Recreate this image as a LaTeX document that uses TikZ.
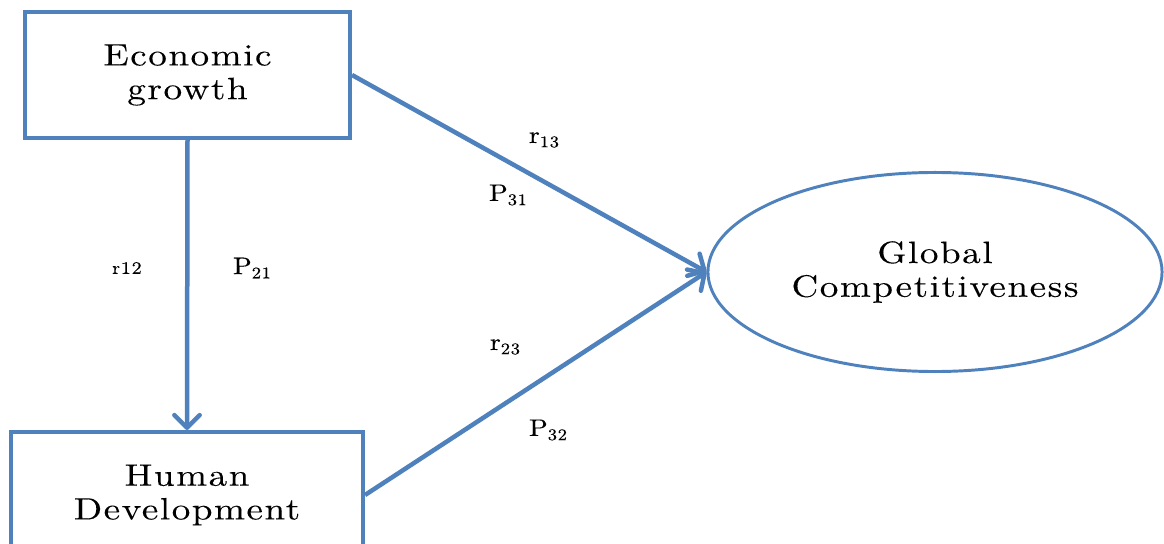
\documentclass[tikz,border=0pt]{standalone}
\usepackage{fontspec}
\usetikzlibrary{arrows.meta,shapes.geometric}
\definecolor{pathblue}{HTML}{4F81BD}
\newfontfamily\spacedfont{lmroman10-regular.otf}[FakeStretch=1.2, LetterSpace=5, FakeBold=0.2]
\newfontfamily\coeffam{lmroman10-regular.otf}[FakeStretch=1.15, LetterSpace=4, FakeBold=0.3]
\newcommand{\varfont}{\spacedfont\fontsize{22}{24}\selectfont}
\newcommand{\coeffont}{\coeffam\fontsize{17}{18}\selectfont}
\newcommand{\coefsub}[1]{\raisebox{-3pt}{\fontsize{11.5}{12}\selectfont #1}}
\tikzset{
  varbox/.style={draw=pathblue, line width=2.8pt, align=center, inner sep=0pt, font=\varfont},
  link/.style={pathblue, line width=3.2pt, -{Straight Barb[length=9pt,width=18pt,round]}},
  coef/.style={font=\coeffont}
}
\begin{document}
\begin{tikzpicture}[x=0.025cm, y=-0.025cm]
    \useasboundingbox (0,0) rectangle (1164,544);
    % Variables
    \node[varbox, minimum width=8.125cm, minimum height=3.15cm] (eg) at (187.5,75) {Economic\\growth};
    \node[varbox, minimum width=8.8cm, minimum height=3.15cm] (hd) at (187,495) {Human\\Development};
    \node[varbox, ellipse, line width=2.1pt, minimum width=11.35cm, minimum height=4.975cm] (gc) at (935,272) {Global\\Competitiveness};
    % Paths
    \draw[link] (eg.east) -- (gc.west);
    \draw[link] (eg.south) -- (hd.north);
    \draw[link] (hd.east) -- (gc.west);
    % Coefficients
    \node[font=\coeffam\fontsize{12.5}{13}\selectfont] (r12) at (127,268) {r12};
    \node[coef] (p21) at (252,268) {P\coefsub{21}};
    \node[coef] (r13) at (544,140) {r\coefsub{13}};
    \node[coef] (p31) at (508,195) {P\coefsub{31}};
    \node[coef] (r23) at (505,347) {r\coefsub{23}};
    \node[coef] (p32) at (548,430) {P\coefsub{32}};
\end{tikzpicture}
\end{document}
